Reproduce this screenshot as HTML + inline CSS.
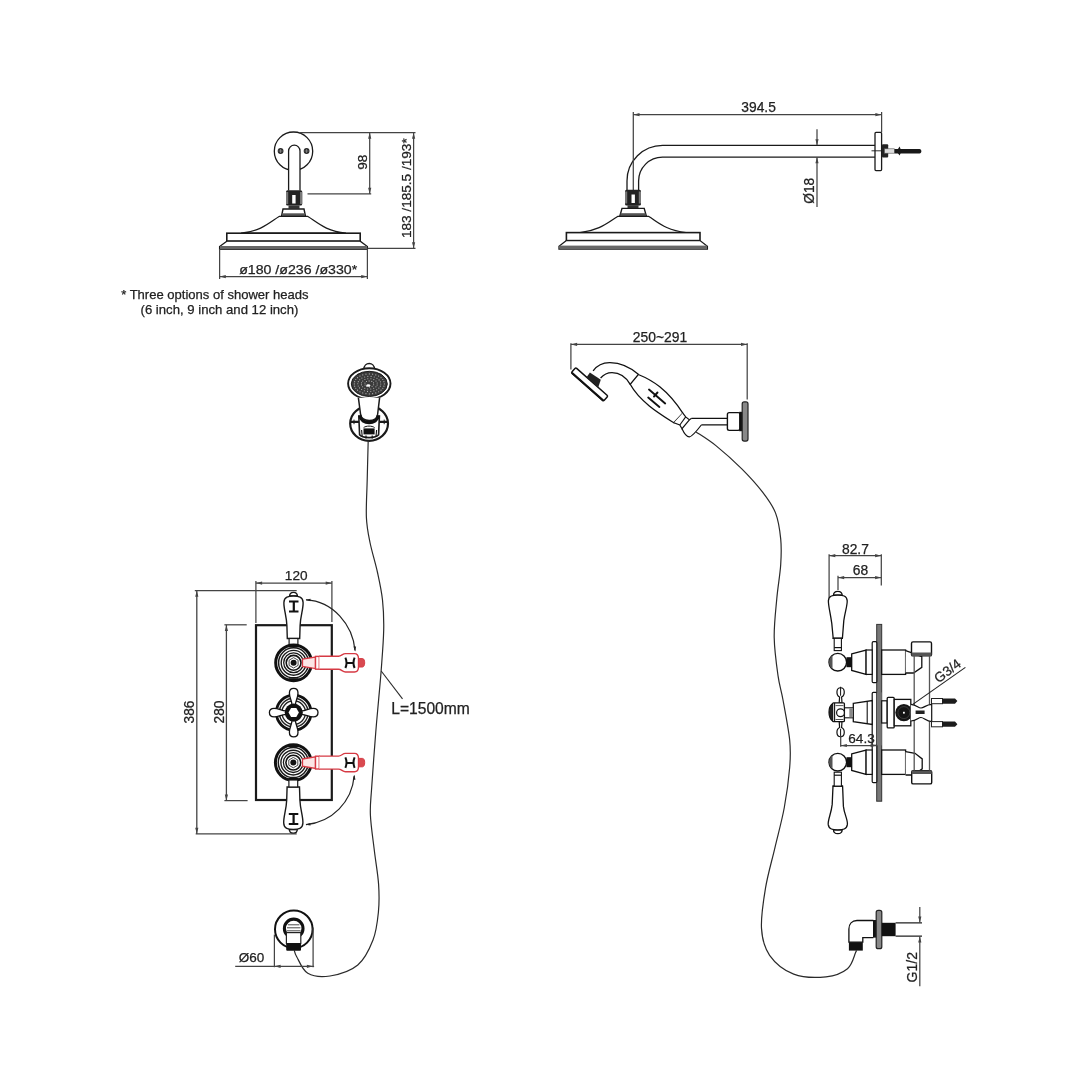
<!DOCTYPE html>
<html><head><meta charset="utf-8"><style>
html,body{margin:0;padding:0;background:#fff;}
svg{display:block;font-family:"Liberation Sans", sans-serif;filter:blur(0.3px);}
</style></head><body>
<svg width="1080" height="1080" viewBox="0 0 1080 1080">
<rect width="1080" height="1080" fill="#fff"/>
<circle cx="293.5" cy="151.2" r="19.2" fill="#fff" stroke="#1a1a1a" stroke-width="1.3"/>
<circle cx="280.6" cy="151" r="2.9" fill="#2a2a2a"/>
<path d="M278.6,151 h4 M280.6,149 v4" stroke="#aaa" stroke-width="0.6"/>
<circle cx="306.6" cy="151" r="2.9" fill="#2a2a2a"/>
<path d="M304.6,151 h4 M306.6,149 v4" stroke="#aaa" stroke-width="0.6"/>
<path d="M288.6,190.5 V150.9 A5.7,5.7 0 0 1 300.0,150.9 V190.5" fill="#fff" stroke="#1a1a1a" stroke-width="1.3"/>
<rect x="286" y="190.3" width="16.2" height="15.3" rx="1.5" fill="#222"/>
<rect x="286" y="192" width="2.2" height="12" fill="#777"/>
<rect x="300" y="192" width="2.2" height="12" fill="#777"/>
<rect x="292.2" y="195" width="3.4" height="8.5" fill="#fff"/>
<rect x="288.5" y="205.4" width="11" height="3.3" fill="#333"/>
<path d="M281.5,216.3 L283,209 H304 L305.5,216.3 Z" fill="#fff" stroke="#1a1a1a" stroke-width="1.4"/>
<rect x="282" y="213.3" width="23" height="3" fill="#555"/>
<path d="M279.5,216.3 C270,222 262,231 241,233.2 H346 C325,231 317,222 307.5,216.3 Z" fill="#fff" stroke="#1a1a1a" stroke-width="1.3"/>
<rect x="226.8" y="233.2" width="133.4" height="8" fill="#fff" stroke="#1a1a1a" stroke-width="1.6"/>
<path d="M226.8,241.2 L219.6,246.6 V249.3 H367.4 V246.6 L360.2,241.2 Z" fill="#fff" stroke="#1a1a1a" stroke-width="1.3"/>
<rect x="220" y="246" width="147" height="3.4" fill="#666"/>
<line x1="219.6" y1="249" x2="219.6" y2="279" stroke="#444" stroke-width="1.25"/>
<line x1="367.4" y1="249" x2="367.4" y2="279" stroke="#444" stroke-width="1.25"/>
<line x1="219.6" y1="276.6" x2="367.4" y2="276.6" stroke="#444" stroke-width="1.25"/>
<path d="M219.80,276.60 L225.80,275.00 L225.80,278.20 Z" fill="#444"/>
<path d="M367.20,276.60 L361.20,278.20 L361.20,275.00 Z" fill="#444"/>
<text x="239.2" y="273.6" font-size="13.4" text-anchor="start" fill="#222" stroke="#222" stroke-width="0.25" textLength="118" lengthAdjust="spacingAndGlyphs">ø180 /ø236 /ø330*</text>
<line x1="299" y1="132.6" x2="415.5" y2="132.6" stroke="#444" stroke-width="1.25"/>
<line x1="307.5" y1="193.9" x2="371.2" y2="193.9" stroke="#444" stroke-width="1.25"/>
<line x1="369.7" y1="132.6" x2="369.7" y2="193.9" stroke="#444" stroke-width="1.25"/>
<path d="M369.70,132.80 L371.30,138.80 L368.10,138.80 Z" fill="#444"/>
<path d="M369.70,193.70 L368.10,187.70 L371.30,187.70 Z" fill="#444"/>
<text x="367.2" y="162.2" font-size="13.6" text-anchor="middle" fill="#222" stroke="#222" stroke-width="0.25" transform="rotate(-90 367.2 162.2)">98</text>
<line x1="367.4" y1="248.4" x2="415.5" y2="248.4" stroke="#444" stroke-width="1.25"/>
<line x1="413.6" y1="132.6" x2="413.6" y2="248.4" stroke="#444" stroke-width="1.25"/>
<path d="M413.60,132.80 L415.20,138.80 L412.00,138.80 Z" fill="#444"/>
<path d="M413.60,248.20 L412.00,242.20 L415.20,242.20 Z" fill="#444"/>
<text x="411.3" y="188.2" font-size="13.3" text-anchor="middle" fill="#222" stroke="#222" stroke-width="0.25" transform="rotate(-90 411.3 188.2)" textLength="99.8" lengthAdjust="spacingAndGlyphs">183 /185.5 /193*</text>
<text x="121.2" y="298.7" font-size="13.0" text-anchor="start" fill="#222" stroke="#222" stroke-width="0.25" textLength="187.4" lengthAdjust="spacingAndGlyphs">* Three options of shower heads</text>
<text x="140.5" y="313.6" font-size="13.0" text-anchor="start" fill="#222" stroke="#222" stroke-width="0.25" textLength="157.9" lengthAdjust="spacingAndGlyphs">(6 inch, 9 inch and 12 inch)</text>
<path d="M627,190 V181 A35.6,35.6 0 0 1 662.6,145.4 H875 M638.6,190 V181 A23.9,23.9 0 0 1 662.5,157.1 H875" fill="none" stroke="#1a1a1a" stroke-width="1.3"/>
<rect x="875" y="132.4" width="6.6" height="38.2" rx="1" fill="#fff" stroke="#1a1a1a" stroke-width="1.3"/>
<line x1="871.5" y1="150.8" x2="884" y2="150.8" stroke="#1a1a1a" stroke-width="0.9"/>
<rect x="882" y="144.2" width="6.2" height="13.2" rx="1" fill="#222"/>
<rect x="884.5" y="148.8" width="10" height="4.4" fill="#ddd" stroke="#555" stroke-width="0.6"/>
<path d="M894.5,149 H919.5 C922,149 922,153.4 919.5,153.4 H894.5 Z" fill="#181818"/>
<path d="M896.5,151.2 L899.6,146.6 L901.5,151.2 L899.6,155.6 Z" fill="#181818"/>
<line x1="633.3" y1="112" x2="633.3" y2="190" stroke="#444" stroke-width="1.25"/>
<line x1="881.6" y1="112" x2="881.6" y2="132.4" stroke="#444" stroke-width="1.25"/>
<line x1="633.3" y1="114.7" x2="881.6" y2="114.7" stroke="#444" stroke-width="1.25"/>
<path d="M633.50,114.70 L639.50,113.10 L639.50,116.30 Z" fill="#444"/>
<path d="M881.40,114.70 L875.40,116.30 L875.40,113.10 Z" fill="#444"/>
<text x="758.6" y="112.2" font-size="13.8" text-anchor="middle" fill="#222" stroke="#222" stroke-width="0.25">394.5</text>
<line x1="817" y1="129.3" x2="817" y2="145.2" stroke="#444" stroke-width="1.25"/>
<line x1="817" y1="157.3" x2="817" y2="207" stroke="#444" stroke-width="1.25"/>
<path d="M817.00,145.20 L815.40,139.20 L818.60,139.20 Z" fill="#444"/>
<path d="M817.00,157.30 L818.60,163.30 L815.40,163.30 Z" fill="#444"/>
<text x="814.2" y="190.8" font-size="13.8" text-anchor="middle" fill="#222" stroke="#222" stroke-width="0.25" transform="rotate(-90 814.2 190.8)">Ø18</text>
<rect x="625" y="189.8" width="16" height="15.8" rx="1.5" fill="#222"/>
<rect x="625" y="191.5" width="2.2" height="12" fill="#777"/>
<rect x="638.8" y="191.5" width="2.2" height="12" fill="#777"/>
<rect x="631.5" y="194.5" width="3.4" height="8.5" fill="#fff"/>
<rect x="627.5" y="205.2" width="11" height="3.2" fill="#333"/>
<path d="M619.8,216.3 L622,208.4 H644.2 L646.4,216.3 Z" fill="#fff" stroke="#1a1a1a" stroke-width="1.4"/>
<rect x="620.5" y="213.2" width="25" height="3" fill="#555"/>
<path d="M618,216.3 C608,222 601,230 580,232.6 H686 C665,230 658,222 648.4,216.3 Z" fill="#fff" stroke="#1a1a1a" stroke-width="1.3"/>
<rect x="566.4" y="232.6" width="133.6" height="8" fill="#fff" stroke="#1a1a1a" stroke-width="1.6"/>
<path d="M566.4,240.6 L559,246.2 V249 H707.4 V246.2 L700,240.6 Z" fill="#fff" stroke="#1a1a1a" stroke-width="1.3"/>
<rect x="559.4" y="245.6" width="147.6" height="3.4" fill="#666"/>
<path d="M363.8,369.5 C364,361.5 374.4,361.5 374.6,369.5" fill="#fff" stroke="#1a1a1a" stroke-width="1.4"/>
<ellipse cx="369.3" cy="383.6" rx="21.2" ry="15.4" fill="#fff" stroke="#1a1a1a" stroke-width="1.9"/>
<ellipse cx="369.3" cy="383.90000000000003" rx="18.0" ry="12.6" fill="#3a3a3a" stroke="#1a1a1a" stroke-width="1"/>
<circle cx="384.30" cy="383.90" r="0.55" fill="#bbb"/>
<circle cx="383.92" cy="386.13" r="0.55" fill="#bbb"/>
<circle cx="382.81" cy="388.24" r="0.55" fill="#bbb"/>
<circle cx="381.03" cy="390.13" r="0.55" fill="#bbb"/>
<circle cx="378.65" cy="391.72" r="0.55" fill="#bbb"/>
<circle cx="375.81" cy="392.91" r="0.55" fill="#bbb"/>
<circle cx="372.64" cy="393.65" r="0.55" fill="#bbb"/>
<circle cx="369.30" cy="393.90" r="0.55" fill="#bbb"/>
<circle cx="365.96" cy="393.65" r="0.55" fill="#bbb"/>
<circle cx="362.79" cy="392.91" r="0.55" fill="#bbb"/>
<circle cx="359.95" cy="391.72" r="0.55" fill="#bbb"/>
<circle cx="357.57" cy="390.13" r="0.55" fill="#bbb"/>
<circle cx="355.79" cy="388.24" r="0.55" fill="#bbb"/>
<circle cx="354.68" cy="386.13" r="0.55" fill="#bbb"/>
<circle cx="354.30" cy="383.90" r="0.55" fill="#bbb"/>
<circle cx="354.68" cy="381.67" r="0.55" fill="#bbb"/>
<circle cx="355.79" cy="379.56" r="0.55" fill="#bbb"/>
<circle cx="357.57" cy="377.67" r="0.55" fill="#bbb"/>
<circle cx="359.95" cy="376.08" r="0.55" fill="#bbb"/>
<circle cx="362.79" cy="374.89" r="0.55" fill="#bbb"/>
<circle cx="365.96" cy="374.15" r="0.55" fill="#bbb"/>
<circle cx="369.30" cy="373.90" r="0.55" fill="#bbb"/>
<circle cx="372.64" cy="374.15" r="0.55" fill="#bbb"/>
<circle cx="375.81" cy="374.89" r="0.55" fill="#bbb"/>
<circle cx="378.65" cy="376.08" r="0.55" fill="#bbb"/>
<circle cx="381.03" cy="377.67" r="0.55" fill="#bbb"/>
<circle cx="382.81" cy="379.56" r="0.55" fill="#bbb"/>
<circle cx="383.92" cy="381.67" r="0.55" fill="#bbb"/>
<circle cx="380.29" cy="386.15" r="0.55" fill="#bbb"/>
<circle cx="378.88" cy="388.10" r="0.55" fill="#bbb"/>
<circle cx="376.70" cy="389.71" r="0.55" fill="#bbb"/>
<circle cx="373.93" cy="390.86" r="0.55" fill="#bbb"/>
<circle cx="370.77" cy="391.44" r="0.55" fill="#bbb"/>
<circle cx="367.50" cy="391.41" r="0.55" fill="#bbb"/>
<circle cx="364.37" cy="390.77" r="0.55" fill="#bbb"/>
<circle cx="361.64" cy="389.57" r="0.55" fill="#bbb"/>
<circle cx="359.54" cy="387.92" r="0.55" fill="#bbb"/>
<circle cx="358.22" cy="385.94" r="0.55" fill="#bbb"/>
<circle cx="357.80" cy="383.79" r="0.55" fill="#bbb"/>
<circle cx="358.31" cy="381.65" r="0.55" fill="#bbb"/>
<circle cx="359.72" cy="379.70" r="0.55" fill="#bbb"/>
<circle cx="361.90" cy="378.09" r="0.55" fill="#bbb"/>
<circle cx="364.67" cy="376.94" r="0.55" fill="#bbb"/>
<circle cx="367.83" cy="376.36" r="0.55" fill="#bbb"/>
<circle cx="371.10" cy="376.39" r="0.55" fill="#bbb"/>
<circle cx="374.23" cy="377.03" r="0.55" fill="#bbb"/>
<circle cx="376.96" cy="378.23" r="0.55" fill="#bbb"/>
<circle cx="379.06" cy="379.88" r="0.55" fill="#bbb"/>
<circle cx="380.38" cy="381.86" r="0.55" fill="#bbb"/>
<circle cx="380.80" cy="384.01" r="0.55" fill="#bbb"/>
<circle cx="375.90" cy="386.84" r="0.55" fill="#bbb"/>
<circle cx="373.67" cy="388.26" r="0.55" fill="#bbb"/>
<circle cx="370.77" cy="389.01" r="0.55" fill="#bbb"/>
<circle cx="367.65" cy="388.99" r="0.55" fill="#bbb"/>
<circle cx="364.78" cy="388.19" r="0.55" fill="#bbb"/>
<circle cx="362.60" cy="386.74" r="0.55" fill="#bbb"/>
<circle cx="361.44" cy="384.86" r="0.55" fill="#bbb"/>
<circle cx="361.47" cy="382.83" r="0.55" fill="#bbb"/>
<circle cx="362.70" cy="380.96" r="0.55" fill="#bbb"/>
<circle cx="364.93" cy="379.54" r="0.55" fill="#bbb"/>
<circle cx="367.83" cy="378.79" r="0.55" fill="#bbb"/>
<circle cx="370.95" cy="378.81" r="0.55" fill="#bbb"/>
<circle cx="373.82" cy="379.61" r="0.55" fill="#bbb"/>
<circle cx="376.00" cy="381.06" r="0.55" fill="#bbb"/>
<circle cx="377.16" cy="382.94" r="0.55" fill="#bbb"/>
<circle cx="377.13" cy="384.97" r="0.55" fill="#bbb"/>
<circle cx="372.10" cy="386.25" r="0.55" fill="#bbb"/>
<circle cx="369.49" cy="386.90" r="0.55" fill="#bbb"/>
<circle cx="366.81" cy="386.40" r="0.55" fill="#bbb"/>
<circle cx="365.08" cy="384.95" r="0.55" fill="#bbb"/>
<circle cx="364.97" cy="383.09" r="0.55" fill="#bbb"/>
<circle cx="366.50" cy="381.55" r="0.55" fill="#bbb"/>
<circle cx="369.11" cy="380.90" r="0.55" fill="#bbb"/>
<circle cx="371.79" cy="381.40" r="0.55" fill="#bbb"/>
<circle cx="373.52" cy="382.85" r="0.55" fill="#bbb"/>
<circle cx="373.63" cy="384.71" r="0.55" fill="#bbb"/>
<ellipse cx="368.3" cy="385.5" rx="2" ry="1.2" fill="#fff"/>
<ellipse cx="369.1" cy="423.5" rx="18.9" ry="17.3" fill="#fff" stroke="#1a1a1a" stroke-width="2.2"/>
<path d="M350.6,421.9 H359 M379.4,421.9 H387.8" stroke="#1a1a1a" stroke-width="2.4"/>
<path d="M354,419.6 V424.2 M384.2,419.6 V424.2" stroke="#1a1a1a" stroke-width="1"/>
<path d="M358.8,416 L359.6,434.8 C362,438.5 376,438.5 378.6,434.8 L379.4,416 Z" fill="#fff" stroke="#1a1a1a" stroke-width="1.6"/>
<path d="M363.5,428.4 H374.6 V434.4 H363.5 Z" fill="#111"/>
<path d="M361.6,430 L362.2,436.5 M376.6,430 L376,436.5" stroke="#111" stroke-width="1.1"/>
<path d="M366,435.5 V438.5 M372.2,435.5 V438.5" stroke="#111" stroke-width="1.2"/>
<path d="M358.4,397.8 L360.6,414.5 C362,422.5 376.4,422.5 377.6,414.5 L379.6,397.8" fill="#fff" stroke="#1a1a1a" stroke-width="1.5"/>
<path d="M359.9,415.5 C361.2,425 377,425 378.3,415.5" fill="none" stroke="#111" stroke-width="3.4"/>
<path d="M363.6,427.6 C366,425.6 372,425.6 374.6,427.6" fill="none" stroke="#111" stroke-width="1"/>
<path d="M368.20,440.50 C368.03,447.08 367.50,467.17 367.20,480.00 C366.90,492.83 365.93,507.08 366.40,517.50 C366.87,527.92 368.15,533.33 370.00,542.50 C371.85,551.67 375.42,562.92 377.50,572.50 C379.58,582.08 381.47,590.42 382.50,600.00 C383.53,609.58 383.92,618.33 383.70,630.00 C383.48,641.67 382.05,658.33 381.20,670.00 C380.35,681.67 379.50,689.72 378.60,700.00 C377.70,710.28 376.95,717.17 375.80,731.70 C374.65,746.23 372.60,773.32 371.70,787.20 C370.80,801.08 369.95,804.37 370.40,815.00 C370.85,825.63 373.03,839.43 374.40,851.00 C375.77,862.57 377.93,874.20 378.60,884.40 C379.27,894.60 379.33,902.93 378.40,912.20 C377.47,921.47 376.43,931.20 373.00,940.00 C369.57,948.80 364.97,959.00 357.80,965.00 C350.63,971.00 338.33,974.62 330.00,976.00 C321.67,977.38 313.35,976.52 307.80,973.30 C302.25,970.08 298.95,960.50 296.70,956.70 C294.45,952.90 294.70,951.53 294.30,950.50" fill="none" stroke="#2a2a2a" stroke-width="1.2"/>
<line x1="381.2" y1="671" x2="402.5" y2="698.8" stroke="#2a2a2a" stroke-width="1.1"/>
<text x="391.2" y="713.9" font-size="15.6" text-anchor="start" fill="#222" stroke="#222" stroke-width="0.25" textLength="78.6" lengthAdjust="spacingAndGlyphs">L=1500mm</text>
<line x1="255.9" y1="581" x2="255.9" y2="623" stroke="#444" stroke-width="1.25"/>
<line x1="331.9" y1="581" x2="331.9" y2="622" stroke="#444" stroke-width="1.25"/>
<line x1="255.9" y1="583.1" x2="331.9" y2="583.1" stroke="#444" stroke-width="1.25"/>
<path d="M256.10,583.10 L262.10,581.50 L262.10,584.70 Z" fill="#444"/>
<path d="M331.70,583.10 L325.70,584.70 L325.70,581.50 Z" fill="#444"/>
<text x="296.2" y="580.4" font-size="13.6" text-anchor="middle" fill="#222" stroke="#222" stroke-width="0.25">120</text>
<line x1="194.8" y1="590.6" x2="296.7" y2="590.6" stroke="#444" stroke-width="1.25"/>
<line x1="195.7" y1="833.9" x2="296.7" y2="833.9" stroke="#444" stroke-width="1.25"/>
<line x1="196.8" y1="590.6" x2="196.8" y2="833.9" stroke="#444" stroke-width="1.3"/>
<path d="M196.80,590.80 L198.40,596.80 L195.20,596.80 Z" fill="#444"/>
<path d="M196.80,833.70 L195.20,827.70 L198.40,827.70 Z" fill="#444"/>
<text x="194.4" y="712" font-size="13.8" text-anchor="middle" fill="#222" stroke="#222" stroke-width="0.25" transform="rotate(-90 194.4 712)">386</text>
<line x1="224.4" y1="624.8" x2="246.7" y2="624.8" stroke="#444" stroke-width="1.25"/>
<line x1="224.4" y1="800.6" x2="247.6" y2="800.6" stroke="#444" stroke-width="1.25"/>
<line x1="226.4" y1="624.8" x2="226.4" y2="800.6" stroke="#444" stroke-width="1.3"/>
<path d="M226.40,625.00 L228.00,631.00 L224.80,631.00 Z" fill="#444"/>
<path d="M226.40,800.40 L224.80,794.40 L228.00,794.40 Z" fill="#444"/>
<text x="223.6" y="712" font-size="13.8" text-anchor="middle" fill="#222" stroke="#222" stroke-width="0.25" transform="rotate(-90 223.6 712)">280</text>
<rect x="256" y="625.2" width="75.8" height="174.8" fill="#fff" stroke="#1a1a1a" stroke-width="2.2"/>
<path d="M289.5,596.5 C289.5,590.9 297.5,590.9 297.5,596.5 Z" fill="#fff" stroke="#1a1a1a" stroke-width="1.3"/>
<path d="M289.0,596.1 H298.0" stroke="#111" stroke-width="1.8"/>
<path d="M287.3,638.5 L286.9,625.5 C286.5,615.5 283.7,609.5 283.9,602.5 C284.1,596.5 288.5,596.1 293.5,596.1 C298.5,596.1 302.9,596.5 303.1,602.5 C303.3,609.5 300.5,615.5 300.1,625.5 L299.7,638.5 Z" fill="#fff" stroke="#1a1a1a" stroke-width="1.4"/>
<rect x="289.1" y="638.5" width="8.8" height="7" fill="#fff" stroke="#1a1a1a" stroke-width="1.2"/>
<path d="M289.0,601.5 H298.5 M289.0,611.5 H298.5 M293.8,601.5 V611.5" stroke="#111" stroke-width="2.2"/>
<circle cx="293.6" cy="662.8" r="17.9" fill="#fff" stroke="#111" stroke-width="3"/>
<circle cx="293.6" cy="662.8" r="15.0" fill="none" stroke="#1a1a1a" stroke-width="1.5"/>
<circle cx="293.6" cy="662.8" r="12.4" fill="none" stroke="#1a1a1a" stroke-width="1.4"/>
<circle cx="293.6" cy="662.8" r="9.9" fill="none" stroke="#1a1a1a" stroke-width="1.3"/>
<circle cx="293.6" cy="662.8" r="7.4" fill="#fff" stroke="#111" stroke-width="1.6"/>
<polygon points="298.10,665.40 293.60,668.00 289.10,665.40 289.10,660.20 293.60,657.60 298.10,660.20" fill="#fff" stroke="#333" stroke-width="0.9"/>
<circle cx="293.6" cy="662.8" r="3.0" fill="#111"/>
<path d="M288.6,646.3 H298.6" stroke="#111" stroke-width="2.2"/>
<path d="M288.6,679.3 H298.6" stroke="#111" stroke-width="2.2"/>
<path d="M302.5,659.1999999999999 L315.5,657.0 V668.5999999999999 L302.5,666.4 Z" fill="#fbe6e6" stroke="#d63a44" stroke-width="1.3"/>
<rect x="315.5" y="656.4" width="3.8" height="12.8" fill="#fff" stroke="#d63a44" stroke-width="1.4"/>
<path d="M319.3,656.3 H338.5 C341.5,656.3 342.5,653.5999999999999 345.5,653.5999999999999 H354.5 C357.5,653.5999999999999 358.5,655.3 358.5,658.8 V666.8 C358.5,670.3 357.5,672.0 354.5,672.0 H345.5 C342.5,672.0 341.5,669.3 338.5,669.3 H319.3" fill="#fff" stroke="#d63a44" stroke-width="1.4"/>
<path d="M358.5,658.5999999999999 H362.5 C365.4,658.5999999999999 365.4,667.0 362.5,667.0 H358.5 Z" fill="#d94a50" stroke="#d63a44" stroke-width="1"/>
<path d="M345.4,657.5999999999999 C346.8,660.8 346.8,664.8 345.4,668.0 M354.6,657.5999999999999 C353.2,660.8 353.2,664.8 354.6,668.0 M346.2,663.0999999999999 H353.8" fill="none" stroke="#111" stroke-width="2"/>
<circle cx="293.3" cy="762.6" r="17.9" fill="#fff" stroke="#111" stroke-width="3"/>
<circle cx="293.3" cy="762.6" r="15.0" fill="none" stroke="#1a1a1a" stroke-width="1.5"/>
<circle cx="293.3" cy="762.6" r="12.4" fill="none" stroke="#1a1a1a" stroke-width="1.4"/>
<circle cx="293.3" cy="762.6" r="9.9" fill="none" stroke="#1a1a1a" stroke-width="1.3"/>
<circle cx="293.3" cy="762.6" r="7.4" fill="#fff" stroke="#111" stroke-width="1.6"/>
<polygon points="297.80,765.20 293.30,767.80 288.80,765.20 288.80,760.00 293.30,757.40 297.80,760.00" fill="#fff" stroke="#333" stroke-width="0.9"/>
<circle cx="293.3" cy="762.6" r="3.0" fill="#111"/>
<path d="M288.3,746.1 H298.3" stroke="#111" stroke-width="2.2"/>
<path d="M288.3,779.1 H298.3" stroke="#111" stroke-width="2.2"/>
<path d="M302.5,759.0 L315.5,756.8000000000001 V768.4 L302.5,766.2 Z" fill="#fbe6e6" stroke="#d63a44" stroke-width="1.3"/>
<rect x="315.5" y="756.2" width="3.8" height="12.8" fill="#fff" stroke="#d63a44" stroke-width="1.4"/>
<path d="M319.3,756.1 H338.5 C341.5,756.1 342.5,753.4 345.5,753.4 H354.5 C357.5,753.4 358.5,755.1 358.5,758.6 V766.6 C358.5,770.1 357.5,771.8000000000001 354.5,771.8000000000001 H345.5 C342.5,771.8000000000001 341.5,769.1 338.5,769.1 H319.3" fill="#fff" stroke="#d63a44" stroke-width="1.4"/>
<path d="M358.5,758.4 H362.5 C365.4,758.4 365.4,766.8000000000001 362.5,766.8000000000001 H358.5 Z" fill="#d94a50" stroke="#d63a44" stroke-width="1"/>
<path d="M345.4,757.4 C346.8,760.6 346.8,764.6 345.4,767.8000000000001 M354.6,757.4 C353.2,760.6 353.2,764.6 354.6,767.8000000000001 M346.2,762.9 H353.8" fill="none" stroke="#111" stroke-width="2"/>
<path d="M289.3,829 C289.3,834.6 297.3,834.6 297.3,829 Z" fill="#fff" stroke="#1a1a1a" stroke-width="1.3"/>
<path d="M288.8,829.4 H297.8" stroke="#111" stroke-width="1.8"/>
<path d="M287.1,787 L286.7,800 C286.3,810 283.5,816 283.7,823 C283.90000000000003,829 288.3,829.4 293.3,829.4 C298.3,829.4 302.7,829 302.90000000000003,823 C303.1,816 300.3,810 299.90000000000003,800 L299.5,787 Z" fill="#fff" stroke="#1a1a1a" stroke-width="1.4"/>
<rect x="288.90000000000003" y="780" width="8.8" height="7" fill="#fff" stroke="#1a1a1a" stroke-width="1.2"/>
<path d="M288.8,824 H298.3 M288.8,814 H298.3 M293.6,824 V814" stroke="#111" stroke-width="2.2"/>
<path d="M306,599.8 C333,601 353,625 355,650.5" fill="none" stroke="#222" stroke-width="1.2"/>
<path d="M354.2,775.8 C352,802 332,822 306,824.6" fill="none" stroke="#222" stroke-width="1.2"/>
<path d="M355.20,651.50 L353.51,646.62 L356.10,646.41 Z" fill="#222"/>
<path d="M305.50,599.80 L310.56,598.75 L310.43,601.35 Z" fill="#222"/>
<path d="M354.40,774.80 L355.45,779.86 L352.85,779.73 Z" fill="#222"/>
<path d="M305.50,824.70 L310.38,823.01 L310.59,825.60 Z" fill="#222"/>
<circle cx="293.7" cy="712.6" r="17.4" fill="#fff" stroke="#111" stroke-width="2.8"/>
<circle cx="293.7" cy="712.6" r="14.4" fill="none" stroke="#222" stroke-width="1.4"/>
<circle cx="293.7" cy="712.6" r="11.8" fill="none" stroke="#222" stroke-width="1.4"/>
<g transform="translate(293.7 712.6) rotate(0)"><path d="M-1.7,-8 C-2.1,-12.5 -4.3,-15.2 -4.3,-19.6 C-4.3,-22.8 -2.4,-24.3 0,-24.3 C2.4,-24.3 4.3,-22.8 4.3,-19.6 C4.3,-15.2 2.1,-12.5 1.7,-8 Z" fill="#fff" stroke="#111" stroke-width="1.3"/></g>
<g transform="translate(293.7 712.6) rotate(90)"><path d="M-1.7,-8 C-2.1,-12.5 -4.3,-15.2 -4.3,-19.6 C-4.3,-22.8 -2.4,-24.3 0,-24.3 C2.4,-24.3 4.3,-22.8 4.3,-19.6 C4.3,-15.2 2.1,-12.5 1.7,-8 Z" fill="#fff" stroke="#111" stroke-width="1.3"/></g>
<g transform="translate(293.7 712.6) rotate(180)"><path d="M-1.7,-8 C-2.1,-12.5 -4.3,-15.2 -4.3,-19.6 C-4.3,-22.8 -2.4,-24.3 0,-24.3 C2.4,-24.3 4.3,-22.8 4.3,-19.6 C4.3,-15.2 2.1,-12.5 1.7,-8 Z" fill="#fff" stroke="#111" stroke-width="1.3"/></g>
<g transform="translate(293.7 712.6) rotate(270)"><path d="M-1.7,-8 C-2.1,-12.5 -4.3,-15.2 -4.3,-19.6 C-4.3,-22.8 -2.4,-24.3 0,-24.3 C2.4,-24.3 4.3,-22.8 4.3,-19.6 C4.3,-15.2 2.1,-12.5 1.7,-8 Z" fill="#fff" stroke="#111" stroke-width="1.3"/></g>
<circle cx="293.7" cy="712.6" r="9" fill="#111"/>
<polygon points="298.90,712.60 296.30,717.10 291.10,717.10 288.50,712.60 291.10,708.10 296.30,708.10" fill="#fff"/>
<circle cx="293.8" cy="929.3" r="18.8" fill="#fff" stroke="#111" stroke-width="2"/>
<circle cx="293.7" cy="928.4" r="9.3" fill="#fff" stroke="#111" stroke-width="3.1"/>
<path d="M288,924.8 H299.4 M287,927.8 H300.4 M286.8,930.8 H300.6" stroke="#333" stroke-width="0.9"/>
<rect x="286.4" y="932.6" width="14.4" height="11" fill="#fff" stroke="#222" stroke-width="1.2"/>
<rect x="286.2" y="943.3" width="14.8" height="7.5" rx="1" fill="#111"/>
<line x1="274.4" y1="934.6" x2="274.4" y2="967.2" stroke="#444" stroke-width="1.25"/>
<line x1="313.1" y1="927.5" x2="313.1" y2="967.2" stroke="#444" stroke-width="1.25"/>
<line x1="235.2" y1="966.3" x2="314.1" y2="966.3" stroke="#444" stroke-width="1.25"/>
<path d="M274.60,966.30 L280.60,964.70 L280.60,967.90 Z" fill="#444"/>
<path d="M312.90,966.30 L306.90,967.90 L306.90,964.70 Z" fill="#444"/>
<text x="238.7" y="962.2" font-size="13.6" text-anchor="start" fill="#222" stroke="#222" stroke-width="0.25" textLength="25.5" lengthAdjust="spacingAndGlyphs">Ø60</text>
<line x1="570.9" y1="343.3" x2="570.9" y2="369.4" stroke="#444" stroke-width="1.25"/>
<line x1="747.2" y1="343.3" x2="747.2" y2="399.6" stroke="#444" stroke-width="1.25"/>
<line x1="570.9" y1="344.4" x2="747.2" y2="344.4" stroke="#444" stroke-width="1.25"/>
<path d="M571.10,344.40 L577.10,342.80 L577.10,346.00 Z" fill="#444"/>
<path d="M747.00,344.40 L741.00,346.00 L741.00,342.80 Z" fill="#444"/>
<text x="660" y="342.4" font-size="13.9" text-anchor="middle" fill="#222" stroke="#222" stroke-width="0.25" textLength="54.4" lengthAdjust="spacingAndGlyphs">250~291</text>
<g transform="translate(589.6,384.4) rotate(41.5)"><rect x="-21.5" y="-3.4" width="43" height="6.8" rx="1.2" fill="#fff" stroke="#111" stroke-width="1.5"/><path d="M-21,3 H21" stroke="#111" stroke-width="2"/></g>
<path d="M586.6,377.2 L589.9,372.4 L600.8,379.8 L598.2,387.4 Z" fill="#222"/>
<path d="M593.1,370.9 C598,364 604,362.5 610,362.6 C620,362.8 630,367 638.3,374.3 M600.6,378 C604,374 608,372.6 612,372.6 C619,372.6 625,375.5 630.2,384.3" fill="none" stroke="#111" stroke-width="1.3"/>
<path d="M638.3,374.5 C652,380 667,389 682.8,413.1 L673.9,422.8 C660,414 640,402 630.2,384.3 Z" fill="#fff" stroke="#111" stroke-width="1.3"/>
<path d="M682.8,413.1 L685.7,416.9 L689.4,419.8 L682,428.7 L679.8,425 L673.9,422.8" fill="#fff" stroke="#111" stroke-width="1.2"/>
<path d="M685.7,416.9 L679.8,425" stroke="#111" stroke-width="1.1"/>
<path d="M682,428.7 C684,433 687,437 689.4,436.9 C692,436.5 699,428 701.3,425 M691.7,418.3 L689.4,419.8" fill="none" stroke="#111" stroke-width="1.2"/>
<path d="M649,389.5 L665.2,403.5 M648.2,397.6 L659.4,406.9 M654,396.5 L657.5,392.5" stroke="#111" stroke-width="1.9" stroke-linecap="round"/>
<path d="M691.7,418.4 H727.6 M701.3,424.9 H727.6" stroke="#111" stroke-width="1.3"/>
<rect x="727.4" y="412.6" width="12.6" height="17.8" rx="1.8" fill="#fff" stroke="#111" stroke-width="1.4"/>
<rect x="739.2" y="411.8" width="3.4" height="19.4" fill="#111"/>
<rect x="742.2" y="401.9" width="5.8" height="39.2" rx="2" fill="#888" stroke="#222" stroke-width="1.2"/>
<path d="M696.10,431.90 C699.40,434.18 708.28,439.43 715.90,445.60 C723.52,451.77 734.02,461.13 741.80,468.90 C749.58,476.67 756.98,484.87 762.60,492.20 C768.22,499.53 772.48,505.12 775.50,512.90 C778.52,520.68 779.83,530.25 780.70,538.90 C781.57,547.55 781.35,554.87 780.70,564.80 C780.05,574.73 777.88,586.40 776.80,598.50 C775.72,610.60 773.98,624.45 774.20,637.40 C774.42,650.35 776.63,665.77 778.10,676.20 C779.57,686.63 781.07,689.32 783.00,700.00 C784.93,710.68 788.58,729.10 789.70,740.30 C790.82,751.50 790.60,756.00 789.70,767.20 C788.80,778.40 786.77,794.07 784.30,807.50 C781.83,820.93 778.03,834.37 774.90,847.80 C771.77,861.23 767.73,874.67 765.50,888.10 C763.27,901.53 760.82,917.20 761.50,928.40 C762.18,939.60 764.23,947.68 769.60,955.30 C774.97,962.92 784.30,970.52 793.70,974.10 C803.10,977.68 817.03,977.70 826.00,976.80 C834.97,975.90 842.57,972.73 847.50,968.70 C852.43,964.67 854.15,955.62 855.60,952.60 C857.05,949.58 856.10,950.93 856.20,950.60" fill="none" stroke="#2a2a2a" stroke-width="1.2"/>
<line x1="829.1" y1="554.3" x2="829.1" y2="600" stroke="#444" stroke-width="1.25"/>
<line x1="881.3" y1="554.3" x2="881.3" y2="585.4" stroke="#444" stroke-width="1.25"/>
<line x1="829.1" y1="555.7" x2="881.3" y2="555.7" stroke="#444" stroke-width="1.25"/>
<path d="M829.30,555.70 L835.30,554.10 L835.30,557.30 Z" fill="#444"/>
<path d="M881.10,555.70 L875.10,557.30 L875.10,554.10 Z" fill="#444"/>
<text x="855.4" y="553.5" font-size="13.8" text-anchor="middle" fill="#222" stroke="#222" stroke-width="0.25">82.7</text>
<line x1="838" y1="575.7" x2="838" y2="590" stroke="#444" stroke-width="1.25"/>
<line x1="838" y1="577.6" x2="881.3" y2="577.6" stroke="#444" stroke-width="1.25"/>
<path d="M838.20,577.60 L844.20,576.00 L844.20,579.20 Z" fill="#444"/>
<path d="M881.10,577.60 L875.10,579.20 L875.10,576.00 Z" fill="#444"/>
<text x="860.4" y="575" font-size="13.8" text-anchor="middle" fill="#222" stroke="#222" stroke-width="0.25">68</text>
<rect x="876.7" y="624.4" width="5" height="176.8" fill="#777" stroke="#333" stroke-width="1"/>
<rect x="872.2" y="641.7" width="4.6" height="41" rx="1.2" fill="#fff" stroke="#111" stroke-width="1.2"/>
<path d="M851.7,653.9000000000001 L866.1,650.0 V674.4000000000001 L851.7,670.5 Z" fill="#fff" stroke="#111" stroke-width="1.3"/>
<rect x="866.1" y="650.0" width="6.1" height="24.4" fill="#fff" stroke="#111" stroke-width="1.2"/>
<rect x="881.7" y="650.0" width="23.9" height="24.4" fill="#fff" stroke="#111" stroke-width="1.3"/>
<rect x="846.5" y="657.2" width="5.3" height="10" fill="#111"/>
<circle cx="837.8" cy="662.2" r="8.8" fill="#fff" stroke="#111" stroke-width="1.4"/>
<path d="M832.5,655.2 A8.8,8.8 0 0 0 832.5,669.2 Z" fill="#555"/>
<path d="M833.4,595.6 C833.4,590.0 842.1999999999999,590.0 842.1999999999999,595.6 Z" fill="#fff" stroke="#111" stroke-width="1.2"/>
<path d="M833.1999999999999,595.2 H842.4" stroke="#111" stroke-width="1.6"/>
<path d="M833.1999999999999,638.3000000000001 L831.8,623.6 C830.3,612.6 828.1999999999999,605.6 828.4,600.6 C828.8,595.6 832.8,595.2 837.8,595.2 C842.8,595.2 846.8,595.6 847.1999999999999,600.6 C847.4,605.6 845.3,610.6 843.8,620.6 L842.4,638.3000000000001 Z" fill="#fff" stroke="#111" stroke-width="1.3"/>
<path d="M832.5999999999999,638.3000000000001 H843.0" stroke="#111" stroke-width="1.3"/>
<rect x="834.1999999999999" y="638.3000000000001" width="7.2" height="12.3" fill="#fff" stroke="#111" stroke-width="1.1"/>
<path d="M834.1999999999999,647.6 H841.4" stroke="#111" stroke-width="1.2"/>
<rect x="872.2" y="741.7" width="4.6" height="41" rx="1.2" fill="#fff" stroke="#111" stroke-width="1.2"/>
<path d="M851.7,753.9000000000001 L866.1,750.0 V774.4000000000001 L851.7,770.5 Z" fill="#fff" stroke="#111" stroke-width="1.3"/>
<rect x="866.1" y="750.0" width="6.1" height="24.4" fill="#fff" stroke="#111" stroke-width="1.2"/>
<rect x="881.7" y="750.0" width="23.9" height="24.4" fill="#fff" stroke="#111" stroke-width="1.3"/>
<rect x="846.5" y="757.2" width="5.3" height="10" fill="#111"/>
<circle cx="837.8" cy="762.2" r="8.8" fill="#fff" stroke="#111" stroke-width="1.4"/>
<path d="M832.5,755.2 A8.8,8.8 0 0 0 832.5,769.2 Z" fill="#555"/>
<path d="M833.4,829.4 C833.4,835.0 842.1999999999999,835.0 842.1999999999999,829.4 Z" fill="#fff" stroke="#111" stroke-width="1.2"/>
<path d="M833.1999999999999,829.8 H842.4" stroke="#111" stroke-width="1.6"/>
<path d="M833.0,786.1 L832.1999999999999,804.4 C831.3,813.4 827.8,819.4 828.1999999999999,824.4 C828.8,829.4 832.8,829.8 837.8,829.8 C842.8,829.8 846.8,829.4 847.4,824.4 C847.8,819.4 844.3,814.4 843.4,806.4 L842.5999999999999,786.1 Z" fill="#fff" stroke="#111" stroke-width="1.3"/>
<path d="M832.5999999999999,786.1 H843.0" stroke="#111" stroke-width="1.3"/>
<rect x="834.1999999999999" y="772.1999999999999" width="7.2" height="13.9" fill="#fff" stroke="#111" stroke-width="1.1"/>
<path d="M834.1999999999999,775.1999999999999 H841.4" stroke="#111" stroke-width="1.2"/>
<path d="M905.6,650.7 L911.3,652.6 L921.8,656.7 V667.4 L913.5,673 H905.6" fill="#fff" stroke="#111" stroke-width="1.3"/>
<rect x="911.5" y="641.9" width="20" height="14" rx="1.5" fill="#fff" stroke="#111" stroke-width="1.4"/>
<rect x="911.5" y="652.5" width="20" height="3.4" fill="#555"/>
<path d="M905.6,751.7 L915,753.3 L922.2,758.9 V768.9 L913.5,775 H905.6" fill="#fff" stroke="#111" stroke-width="1.3"/>
<rect x="911.7" y="770.6" width="20" height="13.3" rx="1.5" fill="#fff" stroke="#111" stroke-width="1.4"/>
<rect x="911.7" y="770.6" width="20" height="3.4" fill="#555"/>
<path d="M914.2,655.9 V770.6 M929.5,655.9 V770.6" stroke="#555" stroke-width="1.3"/>
<rect x="872.2" y="692.4" width="4.6" height="53" rx="1.2" fill="#fff" stroke="#111" stroke-width="1.2"/>
<rect x="876.7" y="692.4" width="5" height="53" fill="#777"/>
<rect x="881.7" y="700.8" width="5.5" height="22.2" fill="#fff" stroke="#111" stroke-width="1.2"/>
<rect x="887.2" y="697.4" width="7" height="30.5" rx="1" fill="#fff" stroke="#111" stroke-width="1.3"/>
<rect x="894.2" y="699.4" width="16.6" height="26.4" fill="#fff" stroke="#111" stroke-width="1.3"/>
<circle cx="903.9" cy="712.6" r="8.6" fill="#151515"/>
<circle cx="903.9" cy="712.6" r="6" fill="none" stroke="#444" stroke-width="0.8"/>
<rect x="903" y="711.8" width="1.8" height="1.8" fill="#fff"/>
<path d="M910.8,704.3 C917,705 918,708 921,708 C924,708 926,704.5 931.7,704.3 V721.7 C926,721.5 924,717.5 921,717.5 C918,717.5 917,720.5 910.8,721" fill="#fff" stroke="#111" stroke-width="1.2"/>
<rect x="915.6" y="710.5" width="9" height="3.5" fill="#222"/>
<rect x="931.5" y="698.5" width="11" height="5.2" fill="#fff" stroke="#222" stroke-width="1"/>
<path d="M942,698.5 H955 L957.4,701.1 L955,703.7 H942 Z" fill="#1c1c1c"/>
<rect x="931.5" y="721.6" width="11" height="5.2" fill="#fff" stroke="#222" stroke-width="1"/>
<path d="M942,721.6 H955 L957.4,724.2 L955,726.8000000000001 H942 Z" fill="#1c1c1c"/>
<path d="M853.3,703.3 L872.2,700.6 V724.4 L853.3,721.7 Z" fill="#fff" stroke="#111" stroke-width="1.3"/>
<path d="M867.2,701.3 V723.7" stroke="#111" stroke-width="1.1"/>
<rect x="844.4" y="707.8" width="8.9" height="10" fill="#fff" stroke="#111" stroke-width="1.1"/>
<rect x="849.3" y="708.3" width="3.6" height="9" fill="#888"/>
<path d="M839.2,702.85 L839.6,696.95 C836,695.25 835.8,687.75 840.6,687.75 C845.4,687.75 845.2,695.25 841.6,696.95 L842,702.85 Z" fill="#fff" stroke="#111" stroke-width="1.2"/>
<path d="M840.6,695.75 V686.75" stroke="#111" stroke-width="1"/>
<path d="M839.2,721.65 L839.6,727.55 C836,729.25 835.8,736.75 840.6,736.75 C845.4,736.75 845.2,729.25 841.6,727.55 L842,721.65 Z" fill="#fff" stroke="#111" stroke-width="1.2"/>
<path d="M840.6,728.75 V737.75" stroke="#111" stroke-width="1"/>
<rect x="832.6" y="702.8" width="11.8" height="18.9" rx="1" fill="#fff" stroke="#111" stroke-width="1.3"/>
<path d="M832.6,703.5 C827.8,707 827.8,717.5 832.6,721" fill="#222" stroke="#111" stroke-width="1.2"/>
<path d="M834.6,703 V721.5" stroke="#111" stroke-width="1.1"/>
<circle cx="840.5" cy="712.8" r="3.9" fill="#fff" stroke="#111" stroke-width="1.2"/>
<path d="M835.5,705.6 H843.5 M835.5,719.5 H843.5" stroke="#555" stroke-width="1"/>
<line x1="840.7" y1="735.6" x2="840.7" y2="746.7" stroke="#444" stroke-width="1.25"/>
<line x1="840.7" y1="745.5" x2="877" y2="745.5" stroke="#444" stroke-width="1.25"/>
<path d="M840.90,745.50 L846.90,743.90 L846.90,747.10 Z" fill="#444"/>
<path d="M876.60,745.50 L870.60,747.10 L870.60,743.90 Z" fill="#444"/>
<text x="861.5" y="742.6" font-size="13.6" text-anchor="middle" fill="#222" stroke="#222" stroke-width="0.25">64.3</text>
<line x1="912.8" y1="704.4" x2="965.4" y2="667.4" stroke="#222" stroke-width="1.1"/>
<text x="950.4" y="674.6" font-size="13.6" text-anchor="middle" fill="#222" stroke="#222" stroke-width="0.25" transform="rotate(-37 950.4 674.6)">G3/4</text>
<path d="M873.4,920.5 H857 C852,920.5 848.9,924 848.9,929 V942.2 H862.8 V937.6 H873.4" fill="#fff" stroke="#111" stroke-width="1.3"/>
<rect x="848.9" y="942.2" width="13.9" height="8.4" fill="#111"/>
<rect x="873" y="920" width="3.6" height="17.6" fill="#111"/>
<rect x="876.2" y="910.3" width="5.6" height="38.4" rx="2" fill="#888" stroke="#222" stroke-width="1.2"/>
<rect x="881.8" y="922.8" width="13.8" height="13.4" fill="#111"/>
<path d="M895.6,922.9 H922 M895.6,936.2 H922" stroke="#222" stroke-width="1.3"/>
<line x1="919.8" y1="907" x2="919.8" y2="922.8" stroke="#444" stroke-width="1.25"/>
<line x1="919.8" y1="936.2" x2="919.8" y2="986.2" stroke="#444" stroke-width="1.25"/>
<path d="M919.80,922.60 L918.20,916.60 L921.40,916.60 Z" fill="#444"/>
<path d="M919.80,936.40 L921.40,942.40 L918.20,942.40 Z" fill="#444"/>
<text x="917.4" y="967.2" font-size="14" text-anchor="middle" fill="#222" stroke="#222" stroke-width="0.25" transform="rotate(-90 917.4 967.2)">G1/2</text>
</svg></body></html>
